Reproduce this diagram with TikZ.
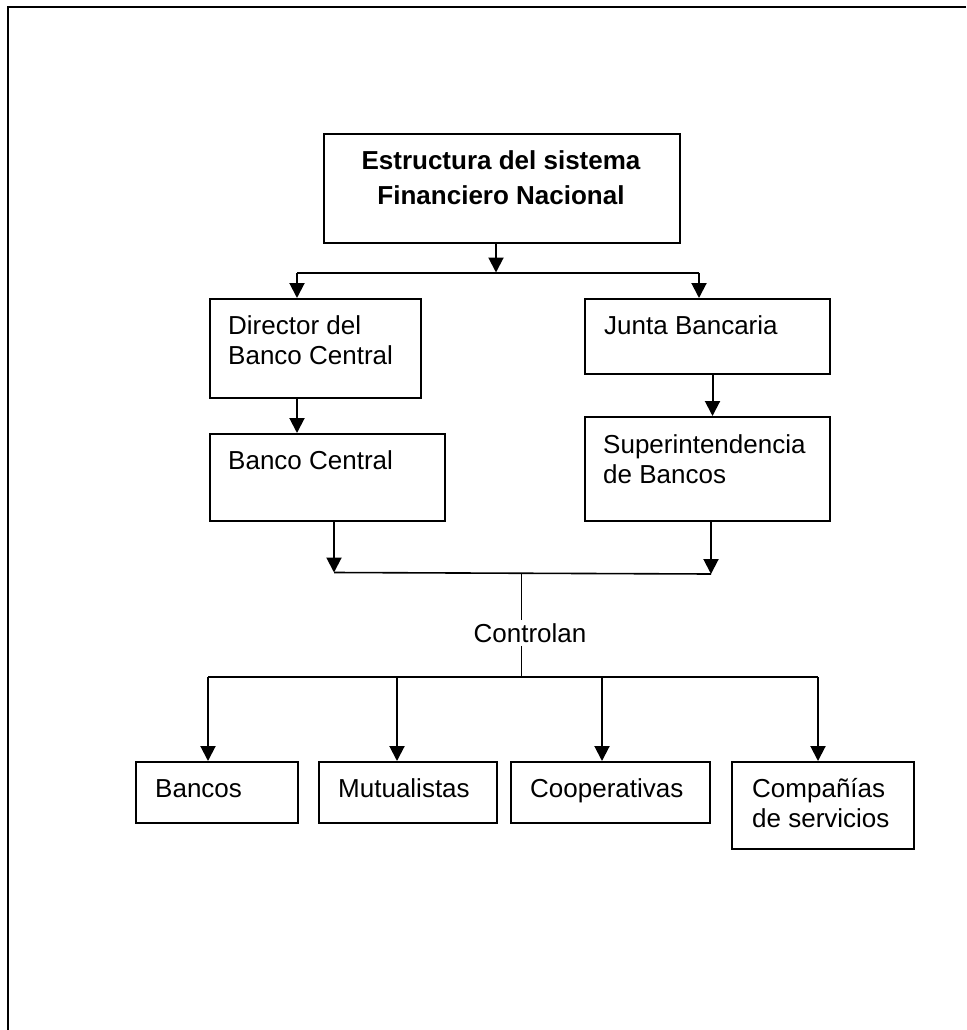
\documentclass[tikz,border=0pt]{standalone}
\usepackage{fontspec}
\setmainfont{Liberation Sans}
\usetikzlibrary{arrows.meta}
\begin{document}
\begin{tikzpicture}[x=1pt,y=-1pt,
  box/.style={draw, line width=2pt, inner sep=0pt, anchor=north west},
  txt/.style={anchor=north west, inner sep=0pt, align=left,
              font=\fontsize{26}{30}\selectfont},
  conn/.style={line width=2pt},
  arr/.style={line width=2pt, -{Triangle[length=15pt,width=15pt]}},
  bar/.style={line width=1.6pt},
  thinline/.style={line width=1pt},
  frame/.style={line width=2pt}]
\useasboundingbox (0,0) rectangle (966,1030);

% page frame (top and left edges)
\draw[frame] (966,7.5) -- (7.5,7.5) -- (7.5,1030);

% title
\node[box, minimum width=356pt, minimum height=109pt] (title) at (323,133) {};
\node[anchor=north, inner sep=0pt, align=center,
      font=\fontsize{26}{34.5}\selectfont\bfseries] (titleT) at (501,145.5)
  {Estructura del sistema\strut\\Financiero Nacional\strut};

% left branch
\node[box, minimum width=211pt, minimum height=99pt] (dir) at (209,298) {};
\node[txt] (dirT) at (228,313) {Director del\strut\\Banco Central\strut};
\node[box, minimum width=235pt, minimum height=87pt] (bc) at (209,433) {};
\node[txt] (bcT) at (228,448) {Banco Central\strut};

% right branch
\node[box, minimum width=245pt, minimum height=75pt] (jun) at (584,298) {};
\node[txt] (junT) at (604,313) {Junta Bancaria\strut};
\node[box, minimum width=245pt, minimum height=104pt] (sup) at (584,416) {};
\node[txt] (supT) at (603,432) {Superintendencia\strut\\de Bancos\strut};

% controlled institutions
\node[box, minimum width=162pt, minimum height=61pt] (ban) at (135,761) {};
\node[txt] (banT) at (155,776) {Bancos\strut};
\node[box, minimum width=178pt, minimum height=61pt] (mut) at (318,761) {};
\node[txt] (mutT) at (338,776) {Mutualistas\strut};
\node[box, minimum width=199pt, minimum height=61pt] (coo) at (510,761) {};
\node[txt] (cooT) at (530,776) {Cooperativas\strut};
\node[box, minimum width=182pt, minimum height=87pt] (com) at (731,761) {};
\node[txt] (comT) at (752,776) {Compañías\strut\\de servicios\strut};

% "Controlan" label on the central line
\node[inner sep=3pt, fill=white, font=\fontsize{26}{30}\selectfont]
  (ctl) at (530,633) {Controlan};

% junction points
\coordinate (bt) at (496,272.5);
\coordinate (bl) at (297,272.5);
\coordinate (br) at (699,272.5);
\coordinate (xj) at (712.5,0);
\coordinate (ll) at (334,572.5);
\coordinate (lr) at (711,574);
\coordinate (lc) at (521,573.2);
\coordinate (dl) at (208,677);
\coordinate (dm) at (397,677);
\coordinate (dc) at (602,677);
\coordinate (dr) at (818,677);

% top level split
\draw[arr] (bt |- title.south) -- (bt);
\draw[conn] (bl) -- (br);
\draw[arr] (bl) -- (bl |- dir.north);
\draw[arr] (br) -- (br |- jun.north);

% within each branch
\draw[arr] (bl |- dir.south) -- (bl |- bc.north);
\draw[arr] (xj |- jun.south) -- (xj |- sup.north);

% branches join
\draw[arr] (ll |- bc.south) -- (ll);
\draw[arr] (lr |- sup.south) -- (lr);
\draw[bar] (ll) -- (lr);

% central line through the label
\draw[thinline] (lc) -- (lc |- ctl.north);
\draw[thinline] (lc |- ctl.south) -- (lc |- dl);

% distribution to institutions
\draw[conn] (dl) -- (dr);
\draw[arr] (dl) -- (dl |- ban.north);
\draw[arr] (dm) -- (dm |- mut.north);
\draw[arr] (dc) -- (dc |- coo.north);
\draw[arr] (dr) -- (dr |- com.north);
\end{tikzpicture}
\end{document}
